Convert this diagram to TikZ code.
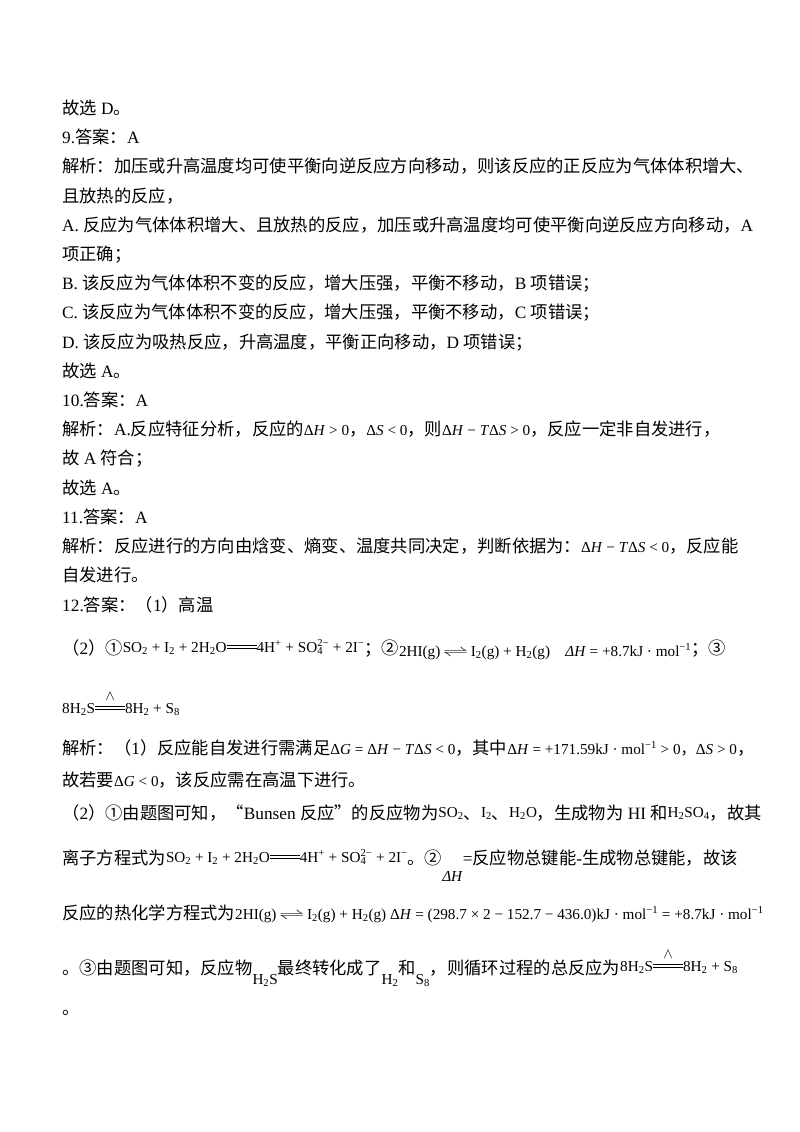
\documentclass[tikz,border=0pt]{standalone}
\usepackage{fontspec}
\setmainfont{Liberation Serif}
\newfontfamily\cjk{Noto Sans CJK SC}
\newXeTeXintercharclass\cjkclass
\makeatletter
\def\setcls#1#2{\count@=#1\relax\loop\XeTeXcharclass\count@=\cjkclass\advance\count@ 1\relax\ifnum\count@<#2\repeat}
\setcls{"4E00}{"A000}
\setcls{"3000}{"3040}
\setcls{"FF00}{"FFF0}
\setcls{"2460}{"2474}
\setcls{"201C}{"201E}
\makeatother
\XeTeXinterchartoks 0 \cjkclass = {\begingroup\cjk}
\XeTeXinterchartoks 4095 \cjkclass = {\begingroup\cjk}
\XeTeXinterchartoks \cjkclass 0 = {\endgroup}
\XeTeXinterchartoks \cjkclass 4095 = {\endgroup}
\XeTeXinterchartokenstate=1
\newcommand\fm{\fontsize{15.2}{18}\selectfont}
\newcommand\sbs[1]{\textsubscript{#1}}
\newcommand\sps[1]{\textsuperscript{#1}}
\newcommand\soq{SO\rlap{\sbs{4}}\sps{2−}}
\newcommand\dbl[1]{\rlap{\raisebox{0.2em}{\rule{#1}{0.06em}}}\raisebox{0.4em}{\rule{#1}{0.06em}}}
\newcommand\heat[1]{\rlap{\raisebox{0.85em}{\makebox[#1]{$\wedge$}}}\dbl{#1}}
\newcommand\eqa{\,\scalebox{1.8}[1]{$\rightleftharpoons$}\,}
\newcommand\dH{Δ\textit{H}}
\newcommand\dS{Δ\textit{S}}
\newcommand\dG{Δ\textit{G}}
\tikzset{ln/.style={anchor=base west,inner sep=0pt,font=\fontsize{17.3}{20}\selectfont}}
\begin{document}
\begin{tikzpicture}[x=1pt,y=1pt]
\useasboundingbox (0,0) rectangle (800,-1132);
\fill[white] (0,0) rectangle (800,-1132);
\def\L#1#2#3{\node[ln] (#1) at (62,-#2-6) {#3};}
\L{a1}{108}{故选 D。}
\L{a2}{137}{9.答案：A}
\L{a3}{166}{解析：加压或升高温度均可使平衡向逆反应方向移动，则该反应的正反应为气体体积增大、}
\L{a4}{196}{且放热的反应，}
\L{a5}{225}{A. 反应为气体体积增大、且放热的反应，加压或升高温度均可使平衡向逆反应方向移动，A}
\L{a6}{254}{项正确；}
\L{a7}{283}{B. 该反应为气体体积不变的反应，增大压强，平衡不移动，B 项错误；}
\L{a8}{312}{C. 该反应为气体体积不变的反应，增大压强，平衡不移动，C 项错误；}
\L{a9}{342}{D. 该反应为吸热反应，升高温度，平衡正向移动，D 项错误；}
\L{a10}{371}{故选 A。}
\L{a11}{400}{10.答案：A}
\L{a12}{429}{解析：A.反应特征分析，反应的{\fm\dH{} > 0}，{\fm\dS{} < 0}，则{\fm\dH{} − \textit{T}\dS{} > 0}，反应一定非自发进行，}
\L{a13}{458}{故 A 符合；}
\L{a14}{488}{故选 A。}
\L{a15}{517}{11.答案：A}
\L{a16}{546}{解析：反应进行的方向由焓变、熵变、温度共同决定，判断依据为：{\fm\dH{} − \textit{T}\dS{} < 0}，反应能}
\L{a17}{575}{自发进行。}
\L{a18}{605}{12.答案：（1）高温}
\L{b1}{648}{（2）①{\fm\raisebox{2pt}{SO\sbs{2} + I\sbs{2} + 2H\sbs{2}O\dbl{30pt}4H\sps{+} + \soq{} + 2I\sps{−}}}；②{\fm\raisebox{-2pt}{2HI(g)\eqa I\sbs{2}(g) + H\sbs{2}(g)\quad \textit{ΔH} = +8.7kJ · mol\sps{−1}}}；③}
\L{b2}{707}{{\fm 8H\sbs{2}S\heat{30pt}8H\sbs{2} + S\sbs{8}}}
\L{b3}{748}{解析：（1）反应能自发进行需满足{\fm\dG{} = \dH{} − \textit{T}\dS{} < 0}，其中{\fm\dH{} = +171.59kJ · mol\sps{−1} > 0，\dS{} > 0}，}
\L{b4}{780}{故若要{\fm\dG{} < 0}，该反应需在高温下进行。}
\L{b5}{813}{（2）①由题图可知，“Bunsen 反应”的反应物为{\fm\raisebox{2pt}{SO\sbs{2}}}、{\fm\raisebox{2pt}{I\sbs{2}}}、{\fm\raisebox{2pt}{H\sbs{2}O}}，生成物为 HI 和{\fm\raisebox{2pt}{H\sbs{2}SO\sbs{4}}}，故其}
\L{b6}{858}{离子方程式为{\fm\raisebox{2pt}{SO\sbs{2} + I\sbs{2} + 2H\sbs{2}O\dbl{30pt}4H\sps{+} + \soq{} + 2I\sps{−}}}。②{\fm\raisebox{-17pt}{\textit{ΔH}}}=反应物总键能-生成物总键能，故该}
\L{b7}{913}{反应的热化学方程式为{\fm 2HI(g)\eqa I\sbs{2}(g) + H\sbs{2}(g) \dH{} = (298.7 × 2 − 152.7 − 436.0)kJ · mol\sps{−1} = +8.7kJ · mol\sps{−1}}}
\L{b8}{968}{。③由题图可知，反应物{\fm\raisebox{-10pt}{H\sbs{2}S}}最终转化成了{\fm\raisebox{-10pt}{H\sbs{2}}}和{\fm\raisebox{-10pt}{S\sbs{8}}}，则循环过程的总反应为{\fm\raisebox{3pt}{8H\sbs{2}S\heat{30pt}8H\sbs{2} + S\sbs{8}}}}
\L{b9}{1008}{。}
\end{tikzpicture}
\end{document}
